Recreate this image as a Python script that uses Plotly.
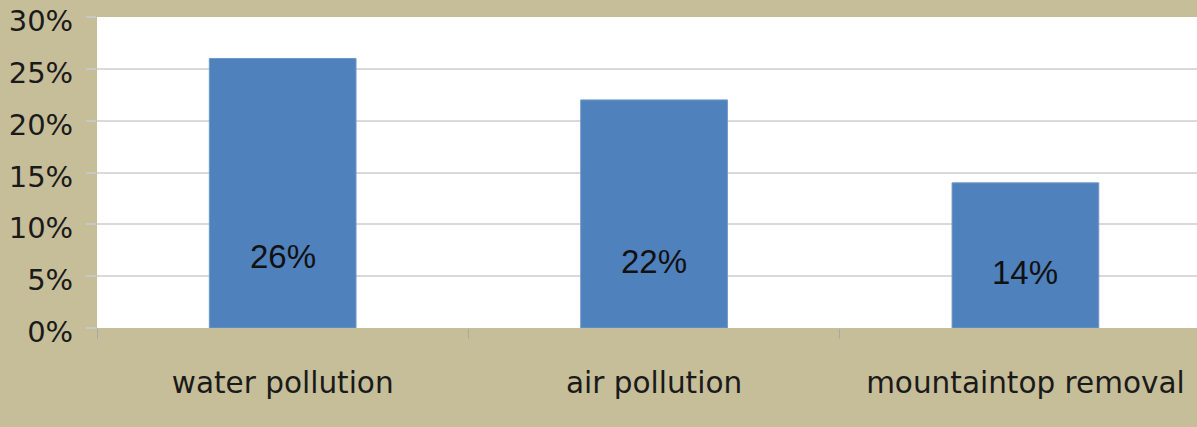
import plotly.graph_objects as go

categories = ["water pollution", "air pollution", "mountaintop removal"]
values = [26, 22, 14]
value_labels = ["26%", "22%", "14%"]
label_heights = [6.9, 6.4, 5.4]
tick_vals = [0, 5, 10, 15, 20, 25, 30]
tick_text = ["0%", "5%", "10%", "15%", "20%", "25%", "30%"]

bg = "#C6BE99"
fig = go.Figure()
fig.add_trace(go.Bar(
    x=categories, y=values,
    marker=dict(color="#4F81BD", line=dict(color="#6E97C8", width=1)),
    width=0.395,
    hoverinfo="skip",
))
for c, lab, h in zip(categories, value_labels, label_heights):
    fig.add_annotation(x=c, y=h, text=lab, showarrow=False,
                       font=dict(family="Liberation Sans, Arial", size=33, color="#111111"),
                       xanchor="center", yanchor="middle")

fig.update_layout(
    width=1197, height=427,
    margin=dict(l=97, r=0, t=17, b=99),
    paper_bgcolor=bg, plot_bgcolor="white",
    showlegend=False,
    font=dict(family="DejaVu Sans", color="#1a1a1a"),
)
fig.update_xaxes(
    type="category", range=[-0.5, 2.462],
    tickson="boundaries", ticks="outside", ticklen=10, tickcolor="#A8A8A8", tickwidth=1,
    tickfont=dict(family="DejaVu Sans", size=29.5, color="#1a1a1a"),
    showgrid=False, showline=False, zeroline=False,
    ticklabelstandoff=34,
)
fig.update_yaxes(
    range=[0, 30], tickvals=tick_vals, ticktext=tick_text,
    ticks="outside", ticklen=10, tickcolor="#C8C8C8", tickwidth=2,
    tickfont=dict(family="DejaVu Sans", size=29, color="#1a1a1a"),
    showgrid=True, gridcolor="#D9D9D9", gridwidth=2,
    zeroline=False, showline=False, ticklabelstandoff=7, ticklabelshift=4,
)
fig.write_html("out.html")
